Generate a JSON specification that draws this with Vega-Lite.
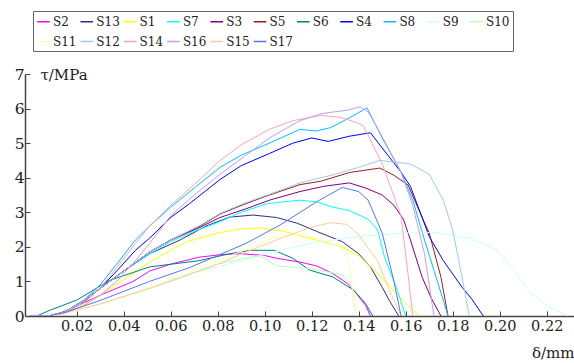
{
"$schema":"https://vega.github.io/schema/vega-lite/v6.json",
"width":549,"height":242,
"autosize":{"type":"none"},
"padding":{"left":25,"top":74,"right":0,"bottom":47},
"background":"white",
"config":{"font":"DejaVu Serif","view":{"stroke":null}},
"data":{"values":[
{"s":"S2","d":0,"t":0},{"s":"S2","d":0.01,"t":0},{"s":"S2","d":0.016,"t":0.17},{"s":"S2","d":0.03,"t":0.6},{"s":"S2","d":0.044,"t":1.0},{"s":"S2","d":0.051,"t":1.3},{"s":"S2","d":0.06,"t":1.5},{"s":"S2","d":0.072,"t":1.7},{"s":"S2","d":0.082,"t":1.78},{"s":"S2","d":0.09,"t":1.8},{"s":"S2","d":0.1,"t":1.75},{"s":"S2","d":0.105,"t":1.67},{"s":"S2","d":0.115,"t":1.56},{"s":"S2","d":0.122,"t":1.45},{"s":"S2","d":0.129,"t":1.23},{"s":"S2","d":0.135,"t":0.95},{"s":"S2","d":0.139,"t":0.65},{"s":"S2","d":0.143,"t":0.3},{"s":"S2","d":0.145,"t":0},
{"s":"S13","d":0,"t":0},{"s":"S13","d":0.008,"t":0},{"s":"S13","d":0.015,"t":0.12},{"s":"S13","d":0.023,"t":0.45},{"s":"S13","d":0.03,"t":0.8},{"s":"S13","d":0.04,"t":1.3},{"s":"S13","d":0.051,"t":1.8},{"s":"S13","d":0.064,"t":2.2},{"s":"S13","d":0.075,"t":2.6},{"s":"S13","d":0.085,"t":2.86},{"s":"S13","d":0.095,"t":2.92},{"s":"S13","d":0.105,"t":2.85},{"s":"S13","d":0.114,"t":2.68},{"s":"S13","d":0.122,"t":2.45},{"s":"S13","d":0.133,"t":2.15},{"s":"S13","d":0.14,"t":1.8},{"s":"S13","d":0.145,"t":1.42},{"s":"S13","d":0.15,"t":0.83},{"s":"S13","d":0.153,"t":0.45},{"s":"S13","d":0.157,"t":0},
{"s":"S1","d":0,"t":0},{"s":"S1","d":0.01,"t":0},{"s":"S1","d":0.018,"t":0.15},{"s":"S1","d":0.03,"t":0.6},{"s":"S1","d":0.04,"t":1.05},{"s":"S1","d":0.051,"t":1.55},{"s":"S1","d":0.06,"t":1.9},{"s":"S1","d":0.067,"t":2.15},{"s":"S1","d":0.08,"t":2.4},{"s":"S1","d":0.09,"t":2.52},{"s":"S1","d":0.098,"t":2.55},{"s":"S1","d":0.108,"t":2.45},{"s":"S1","d":0.119,"t":2.25},{"s":"S1","d":0.133,"t":2.0},{"s":"S1","d":0.14,"t":1.75},{"s":"S1","d":0.148,"t":1.23},{"s":"S1","d":0.156,"t":0.65},{"s":"S1","d":0.161,"t":0.3},{"s":"S1","d":0.166,"t":0},
{"s":"S7","d":0,"t":0},{"s":"S7","d":0.008,"t":0},{"s":"S7","d":0.015,"t":0.12},{"s":"S7","d":0.023,"t":0.45},{"s":"S7","d":0.03,"t":0.8},{"s":"S7","d":0.04,"t":1.3},{"s":"S7","d":0.051,"t":1.8},{"s":"S7","d":0.06,"t":2.15},{"s":"S7","d":0.07,"t":2.45},{"s":"S7","d":0.08,"t":2.7},{"s":"S7","d":0.09,"t":3.0},{"s":"S7","d":0.101,"t":3.25},{"s":"S7","d":0.115,"t":3.35},{"s":"S7","d":0.122,"t":3.3},{"s":"S7","d":0.129,"t":3.15},{"s":"S7","d":0.136,"t":3.05},{"s":"S7","d":0.144,"t":2.8},{"s":"S7","d":0.148,"t":2.5},{"s":"S7","d":0.151,"t":1.7},{"s":"S7","d":0.156,"t":0.83},{"s":"S7","d":0.16,"t":0},
{"s":"S3","d":0,"t":0},{"s":"S3","d":0.008,"t":0},{"s":"S3","d":0.015,"t":0.12},{"s":"S3","d":0.023,"t":0.45},{"s":"S3","d":0.03,"t":0.8},{"s":"S3","d":0.04,"t":1.3},{"s":"S3","d":0.051,"t":1.85},{"s":"S3","d":0.06,"t":2.2},{"s":"S3","d":0.072,"t":2.55},{"s":"S3","d":0.081,"t":2.85},{"s":"S3","d":0.092,"t":3.1},{"s":"S3","d":0.102,"t":3.35},{"s":"S3","d":0.115,"t":3.6},{"s":"S3","d":0.125,"t":3.75},{"s":"S3","d":0.136,"t":3.85},{"s":"S3","d":0.143,"t":3.7},{"s":"S3","d":0.15,"t":3.5},{"s":"S3","d":0.155,"t":3.2},{"s":"S3","d":0.159,"t":2.8},{"s":"S3","d":0.162,"t":2.2},{"s":"S3","d":0.167,"t":1.12},{"s":"S3","d":0.171,"t":0.5},{"s":"S3","d":0.175,"t":0},
{"s":"S5","d":0,"t":0},{"s":"S5","d":0.008,"t":0},{"s":"S5","d":0.015,"t":0.12},{"s":"S5","d":0.023,"t":0.45},{"s":"S5","d":0.03,"t":0.8},{"s":"S5","d":0.04,"t":1.3},{"s":"S5","d":0.051,"t":1.85},{"s":"S5","d":0.06,"t":2.2},{"s":"S5","d":0.0725,"t":2.6},{"s":"S5","d":0.081,"t":2.95},{"s":"S5","d":0.092,"t":3.25},{"s":"S5","d":0.102,"t":3.5},{"s":"S5","d":0.115,"t":3.8},{"s":"S5","d":0.124,"t":3.9},{"s":"S5","d":0.136,"t":4.15},{"s":"S5","d":0.149,"t":4.28},{"s":"S5","d":0.155,"t":4.07},{"s":"S5","d":0.161,"t":3.79},{"s":"S5","d":0.166,"t":3.0},{"s":"S5","d":0.17,"t":2.4},{"s":"S5","d":0.175,"t":1.12},{"s":"S5","d":0.178,"t":0},
{"s":"S6","d":0,"t":0},{"s":"S6","d":0.003,"t":0},{"s":"S6","d":0.0087,"t":0.17},{"s":"S6","d":0.02,"t":0.46},{"s":"S6","d":0.034,"t":1.03},{"s":"S6","d":0.051,"t":1.42},{"s":"S6","d":0.072,"t":1.6},{"s":"S6","d":0.085,"t":1.8},{"s":"S6","d":0.094,"t":1.9},{"s":"S6","d":0.104,"t":1.9},{"s":"S6","d":0.112,"t":1.67},{"s":"S6","d":0.119,"t":1.33},{"s":"S6","d":0.129,"t":1.13},{"s":"S6","d":0.138,"t":0.74},{"s":"S6","d":0.143,"t":0.35},{"s":"S6","d":0.146,"t":0},
{"s":"S4","d":0,"t":0},{"s":"S4","d":0.008,"t":0},{"s":"S4","d":0.015,"t":0.1},{"s":"S4","d":0.023,"t":0.4},{"s":"S4","d":0.03,"t":0.8},{"s":"S4","d":0.037,"t":1.3},{"s":"S4","d":0.045,"t":1.9},{"s":"S4","d":0.051,"t":2.25},{"s":"S4","d":0.06,"t":2.85},{"s":"S4","d":0.068,"t":3.25},{"s":"S4","d":0.081,"t":3.95},{"s":"S4","d":0.09,"t":4.35},{"s":"S4","d":0.102,"t":4.7},{"s":"S4","d":0.112,"t":5.0},{"s":"S4","d":0.12,"t":5.15},{"s":"S4","d":0.127,"t":5.05},{"s":"S4","d":0.136,"t":5.2},{"s":"S4","d":0.145,"t":5.3},{"s":"S4","d":0.15,"t":4.86},{"s":"S4","d":0.158,"t":4.16},{"s":"S4","d":0.162,"t":3.75},{"s":"S4","d":0.17,"t":2.3},{"s":"S4","d":0.176,"t":1.6},{"s":"S4","d":0.184,"t":0.83},{"s":"S4","d":0.188,"t":0.5},{"s":"S4","d":0.193,"t":0},
{"s":"S8","d":0,"t":0},{"s":"S8","d":0.008,"t":0},{"s":"S8","d":0.015,"t":0.1},{"s":"S8","d":0.023,"t":0.45},{"s":"S8","d":0.03,"t":0.9},{"s":"S8","d":0.037,"t":1.5},{"s":"S8","d":0.045,"t":2.2},{"s":"S8","d":0.051,"t":2.6},{"s":"S8","d":0.06,"t":3.15},{"s":"S8","d":0.07,"t":3.7},{"s":"S8","d":0.081,"t":4.3},{"s":"S8","d":0.09,"t":4.65},{"s":"S8","d":0.102,"t":5.0},{"s":"S8","d":0.115,"t":5.4},{"s":"S8","d":0.122,"t":5.35},{"s":"S8","d":0.128,"t":5.45},{"s":"S8","d":0.136,"t":5.73},{"s":"S8","d":0.1435,"t":6.02},{"s":"S8","d":0.15,"t":5.15},{"s":"S8","d":0.158,"t":4.16},{"s":"S8","d":0.163,"t":3.35},{"s":"S8","d":0.168,"t":2.2},{"s":"S8","d":0.172,"t":1.32},{"s":"S8","d":0.176,"t":0.45},{"s":"S8","d":0.178,"t":0},
{"s":"S9","d":0,"t":0},{"s":"S9","d":0.01,"t":0},{"s":"S9","d":0.03,"t":0.35},{"s":"S9","d":0.051,"t":0.8},{"s":"S9","d":0.07,"t":1.25},{"s":"S9","d":0.09,"t":1.6},{"s":"S9","d":0.107,"t":1.9},{"s":"S9","d":0.119,"t":2.1},{"s":"S9","d":0.14,"t":2.3},{"s":"S9","d":0.16,"t":2.4},{"s":"S9","d":0.172,"t":2.42},{"s":"S9","d":0.187,"t":2.25},{"s":"S9","d":0.199,"t":1.9},{"s":"S9","d":0.206,"t":1.32},{"s":"S9","d":0.213,"t":0.66},{"s":"S9","d":0.221,"t":0.26},{"s":"S9","d":0.2295,"t":0},
{"s":"S10","d":0,"t":0},{"s":"S10","d":0.01,"t":0},{"s":"S10","d":0.03,"t":0.35},{"s":"S10","d":0.051,"t":0.8},{"s":"S10","d":0.065,"t":1.15},{"s":"S10","d":0.08,"t":1.5},{"s":"S10","d":0.09,"t":1.65},{"s":"S10","d":0.098,"t":1.75},{"s":"S10","d":0.105,"t":1.45},{"s":"S10","d":0.118,"t":1.38},{"s":"S10","d":0.133,"t":1.2},{"s":"S10","d":0.137,"t":0.85},{"s":"S10","d":0.139,"t":0},
{"s":"S11","d":0,"t":0},{"s":"S11","d":0.01,"t":0},{"s":"S11","d":0.03,"t":0.35},{"s":"S11","d":0.051,"t":0.82},{"s":"S11","d":0.065,"t":1.2},{"s":"S11","d":0.08,"t":1.6},{"s":"S11","d":0.095,"t":2.0},{"s":"S11","d":0.105,"t":2.3},{"s":"S11","d":0.115,"t":2.35},{"s":"S11","d":0.125,"t":2.2},{"s":"S11","d":0.135,"t":1.9},{"s":"S11","d":0.137,"t":1.0},{"s":"S11","d":0.139,"t":0},
{"s":"S12","d":0,"t":0},{"s":"S12","d":0.008,"t":0},{"s":"S12","d":0.015,"t":0.12},{"s":"S12","d":0.023,"t":0.45},{"s":"S12","d":0.03,"t":0.8},{"s":"S12","d":0.04,"t":1.3},{"s":"S12","d":0.051,"t":1.85},{"s":"S12","d":0.06,"t":2.2},{"s":"S12","d":0.0725,"t":2.62},{"s":"S12","d":0.081,"t":2.97},{"s":"S12","d":0.092,"t":3.28},{"s":"S12","d":0.102,"t":3.52},{"s":"S12","d":0.115,"t":3.85},{"s":"S12","d":0.13,"t":4.1},{"s":"S12","d":0.14,"t":4.3},{"s":"S12","d":0.149,"t":4.5},{"s":"S12","d":0.155,"t":4.45},{"s":"S12","d":0.162,"t":4.4},{"s":"S12","d":0.17,"t":4.1},{"s":"S12","d":0.176,"t":3.35},{"s":"S12","d":0.18,"t":2.48},{"s":"S12","d":0.184,"t":1.12},{"s":"S12","d":0.187,"t":0},
{"s":"S14","d":0,"t":0},{"s":"S14","d":0.008,"t":0},{"s":"S14","d":0.015,"t":0.1},{"s":"S14","d":0.023,"t":0.4},{"s":"S14","d":0.03,"t":0.8},{"s":"S14","d":0.037,"t":1.4},{"s":"S14","d":0.045,"t":2.1},{"s":"S14","d":0.051,"t":2.6},{"s":"S14","d":0.06,"t":3.2},{"s":"S14","d":0.07,"t":3.8},{"s":"S14","d":0.081,"t":4.5},{"s":"S14","d":0.09,"t":4.95},{"s":"S14","d":0.102,"t":5.4},{"s":"S14","d":0.112,"t":5.65},{"s":"S14","d":0.124,"t":5.8},{"s":"S14","d":0.132,"t":5.75},{"s":"S14","d":0.139,"t":5.6},{"s":"S14","d":0.142,"t":5.5},{"s":"S14","d":0.15,"t":4.4},{"s":"S14","d":0.158,"t":2.9},{"s":"S14","d":0.161,"t":1.2},{"s":"S14","d":0.163,"t":0},
{"s":"S16","d":0,"t":0},{"s":"S16","d":0.008,"t":0},{"s":"S16","d":0.015,"t":0.1},{"s":"S16","d":0.023,"t":0.3},{"s":"S16","d":0.03,"t":0.6},{"s":"S16","d":0.037,"t":1.0},{"s":"S16","d":0.045,"t":1.6},{"s":"S16","d":0.051,"t":2.1},{"s":"S16","d":0.06,"t":2.9},{"s":"S16","d":0.07,"t":3.5},{"s":"S16","d":0.081,"t":4.1},{"s":"S16","d":0.088,"t":4.45},{"s":"S16","d":0.102,"t":5.15},{"s":"S16","d":0.115,"t":5.65},{"s":"S16","d":0.124,"t":5.85},{"s":"S16","d":0.129,"t":5.9},{"s":"S16","d":0.135,"t":5.95},{"s":"S16","d":0.1405,"t":6.05},{"s":"S16","d":0.144,"t":5.9},{"s":"S16","d":0.148,"t":5.44},{"s":"S16","d":0.158,"t":4.16},{"s":"S16","d":0.163,"t":3.2},{"s":"S16","d":0.168,"t":1.8},{"s":"S16","d":0.172,"t":0},
{"s":"S15","d":0,"t":0},{"s":"S15","d":0.01,"t":0},{"s":"S15","d":0.03,"t":0.35},{"s":"S15","d":0.051,"t":0.8},{"s":"S15","d":0.064,"t":1.1},{"s":"S15","d":0.08,"t":1.5},{"s":"S15","d":0.092,"t":1.85},{"s":"S15","d":0.105,"t":2.2},{"s":"S15","d":0.119,"t":2.55},{"s":"S15","d":0.128,"t":2.7},{"s":"S15","d":0.135,"t":2.65},{"s":"S15","d":0.14,"t":2.35},{"s":"S15","d":0.148,"t":1.6},{"s":"S15","d":0.153,"t":0.75},{"s":"S15","d":0.158,"t":0},
{"s":"S17","d":0,"t":0},{"s":"S17","d":0.008,"t":0},{"s":"S17","d":0.015,"t":0.1},{"s":"S17","d":0.03,"t":0.45},{"s":"S17","d":0.051,"t":1.0},{"s":"S17","d":0.068,"t":1.4},{"s":"S17","d":0.08,"t":1.75},{"s":"S17","d":0.092,"t":2.1},{"s":"S17","d":0.107,"t":2.65},{"s":"S17","d":0.122,"t":3.3},{"s":"S17","d":0.133,"t":3.72},{"s":"S17","d":0.14,"t":3.6},{"s":"S17","d":0.144,"t":3.35},{"s":"S17","d":0.15,"t":2.4},{"s":"S17","d":0.155,"t":1.0},{"s":"S17","d":0.158,"t":0}
]},
"mark":{"type":"line","strokeWidth":1,"clip":true},
"encoding":{
"x":{"field":"d","type":"quantitative","scale":{"domain":[-0.002,0.2316],"nice":false,"zero":false},
"axis":{"values":[0.02,0.04,0.06,0.08,0.1,0.12,0.14,0.16,0.18,0.2,0.22],"format":".2f","grid":false,"title":"δ/mm","titleX":549,"titleY":41,"titleAlign":"right","titleBaseline":"alphabetic","titleFont":"DejaVu Serif","titleFontSize":15,"titleFontWeight":"normal","titleColor":"#222","domainColor":"#444","domainWidth":1.5,"tickColor":"#444","tickSize":-5,"tickWidth":1,"labelFont":"DejaVu Serif","labelFontSize":14.5,"labelColor":"#222","labelPadding":8}},
"y":{"field":"t","type":"quantitative","scale":{"domain":[0,7],"nice":false},
"axis":{"values":[0,1,2,3,4,5,6,7],"grid":false,"title":"τ/MPa","titleAngle":0,"titleX":15,"titleY":5,"titleAlign":"left","titleBaseline":"alphabetic","titleFont":"DejaVu Serif","titleFontSize":15,"titleFontWeight":"normal","titleColor":"#222","domainColor":"#444","domainWidth":1.5,"tickColor":"#444","tickSize":-5,"tickWidth":1,"labelFont":"DejaVu Serif","labelFontSize":15.5,"labelColor":"#222","labelPadding":6}},
"color":{"field":"s","type":"nominal",
"scale":{"domain":["S2","S13","S1","S7","S3","S5","S6","S4","S8","S9","S10","S11","S12","S14","S16","S15","S17"],
"range":["#ff00ff","#2e2e8a","#ffff00","#00ffff","#800080","#991f1f","#008080","#0000ff","#00bfff","#c8ffff","#b8ffb8","#ffffb0","#a0c8f0","#ffa0c8","#c89bf0","#ffcc99","#5577ee"]},
"legend":{"orient":"none","legendX":8,"legendY":-63,"direction":"horizontal","columns":11,"title":null,"symbolType":"stroke","symbolStrokeWidth":1.5,"symbolSize":160,"labelFont":"DejaVu Serif","labelFontSize":12,"labelColor":"#222","labelOffset":2,"padding":3,"columnPadding":0.3,"rowPadding":6,"gridAlign":"all",
"encode":{"legend":{"update":{"stroke":{"value":"#666"},"strokeWidth":{"value":1}}}}}}
}
}
